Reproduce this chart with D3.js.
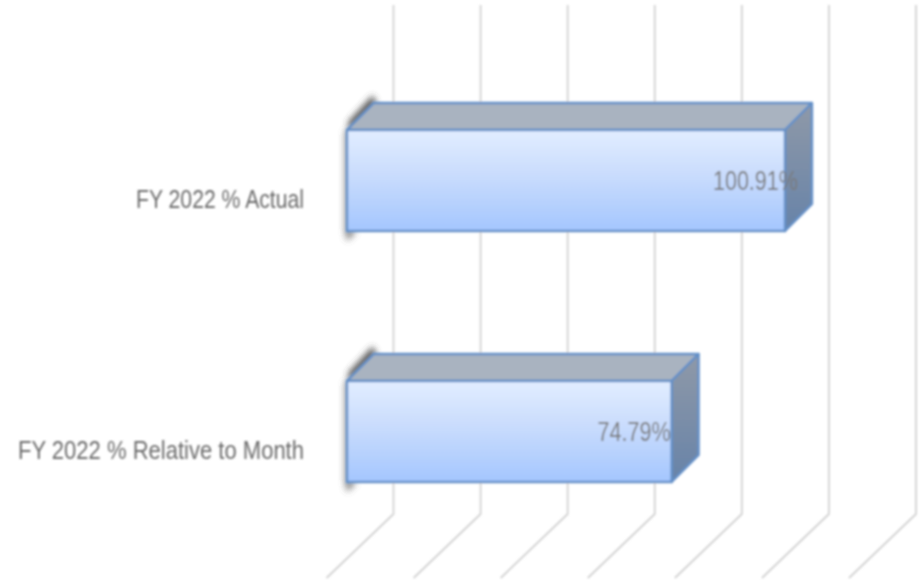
<!DOCTYPE html>
<html><head><meta charset="utf-8">
<script src="https://cdn.jsdelivr.net/npm/d3@7/dist/d3.min.js"></script>
<style>html,body{margin:0;padding:0;background:#fff}svg{display:block}</style></head>
<body><svg id="c" width="923" height="580"></svg>
<script>
const categories = ["FY 2022 % Actual", "FY 2022 % Relative to Month"];
const values = [100.91, 74.79];
const valueLabels = ["100.91%", "74.79%"];
const gridTicks = [0, 20, 40, 60, 80, 100, 120];

const svg = d3.select("#c");
const defs = svg.append("defs");
const blur = defs.append("filter").attr("id","soft").attr("filterUnits","userSpaceOnUse").attr("x",0).attr("y",0).attr("width",923).attr("height",580);
blur.append("feGaussianBlur").attr("stdDeviation",0.85);
const sh = defs.append("filter").attr("id","shadow").attr("filterUnits","userSpaceOnUse").attr("x",0).attr("y",0).attr("width",923).attr("height",580);
sh.append("feGaussianBlur").attr("stdDeviation",3);
const gf = defs.append("linearGradient").attr("id","front").attr("x1",0).attr("y1",0).attr("x2",0).attr("y2",1);
gf.append("stop").attr("offset","0%").attr("stop-color","#e2edff");
gf.append("stop").attr("offset","45%").attr("stop-color","#c9dcfd");
gf.append("stop").attr("offset","100%").attr("stop-color","#a4c6fe");
const gs = defs.append("linearGradient").attr("id","side").attr("x1",0).attr("y1",0).attr("x2",0).attr("y2",1);
gs.append("stop").attr("offset","0%").attr("stop-color","#8f99a8");
gs.append("stop").attr("offset","100%").attr("stop-color","#6783a8");

const x = d3.scaleLinear().domain([0,120]).range([347,867.8]);
const xWall = d3.scaleLinear().domain([0,120]).range([393.5,916]);
const y = d3.scaleBand().domain(categories).range([130,482]).paddingInner(150/251).paddingOuter(0);
const depth = 27, gridTop = 5, gridBase = 514, floorDx = 67, floorDy = 64;

const root = svg.append("g").attr("filter","url(#soft)");
const grid = root.append("g").attr("fill","none").attr("stroke","#d2d2d2").attr("stroke-width",1.8);
grid.selectAll("path").data(gridTicks).join("path")
  .attr("d", t => { const bx = xWall(t); return d3.line()([[bx,gridTop],[bx,gridBase],[bx-floorDx,gridBase+floorDy]]); });

const bars = root.append("g").selectAll("g").data(categories).join("g");
bars.each(function(c,i){
  const g = d3.select(this), x0 = x(0), x1 = x(values[i]), t = y(c), b = t + y.bandwidth();
  const line = d3.line();
  g.append("path").attr("filter","url(#shadow)").attr("fill","#444").attr("opacity",.9)
    .attr("d", line([[x0+3,t+3],[x0+1,t-8],[x0+depth-1,t-depth-8],[x0+depth+3,t-depth+3]])+"Z");
  g.append("path").attr("filter","url(#shadow)").attr("fill","#555").attr("opacity",.75)
    .attr("d", line([[x0-2,t],[x0+4,t],[x0+4,b],[x0+10,b],[x0,b+10],[x0-2,b]])+"Z");
  g.append("path").attr("fill","#a9b3c0").attr("stroke","#6490c8").attr("stroke-width",2.4).attr("stroke-linejoin","round")
    .attr("d", line([[x0,t],[x0+depth,t-depth],[x1+depth,t-depth],[x1,t]])+"Z");
  g.append("path").attr("fill","url(#side)").attr("stroke","#6490c8").attr("stroke-width",2.4).attr("stroke-linejoin","round")
    .attr("d", line([[x1,t],[x1+depth,t-depth],[x1+depth,b-depth],[x1,b]])+"Z");
  g.append("rect").attr("x",x0).attr("y",t).attr("width",x1-x0).attr("height",b-t)
    .attr("fill","url(#front)").attr("stroke","#6490c8").attr("stroke-width",2.4);
});

const labelWidths = [168, 286], valueWidths = [85, 73], valueOffsets = [13, -1];
const font = "'Liberation Sans', Arial, sans-serif";
root.append("g").selectAll("text").data(categories).join("text")
  .attr("x",(d,i)=>304-labelWidths[i]).attr("y",d=>y(d)+y.bandwidth()/2+27)
  .attr("font-family",font).attr("font-size",25).attr("fill","#6c6c6c")
  .attr("textLength",(d,i)=>labelWidths[i]).attr("lengthAdjust","spacingAndGlyphs")
  .text(d=>d);
root.append("g").selectAll("text").data(categories).join("text")
  .attr("x",(d,i)=>x(values[i])+valueOffsets[i]-valueWidths[i]).attr("y",d=>y(d)+y.bandwidth()/2+9)
  .attr("font-family",font).attr("font-size",27).attr("fill","#7a7a7a")
  .attr("textLength",(d,i)=>valueWidths[i]).attr("lengthAdjust","spacingAndGlyphs")
  .text((d,i)=>valueLabels[i]);
</script></body></html>
